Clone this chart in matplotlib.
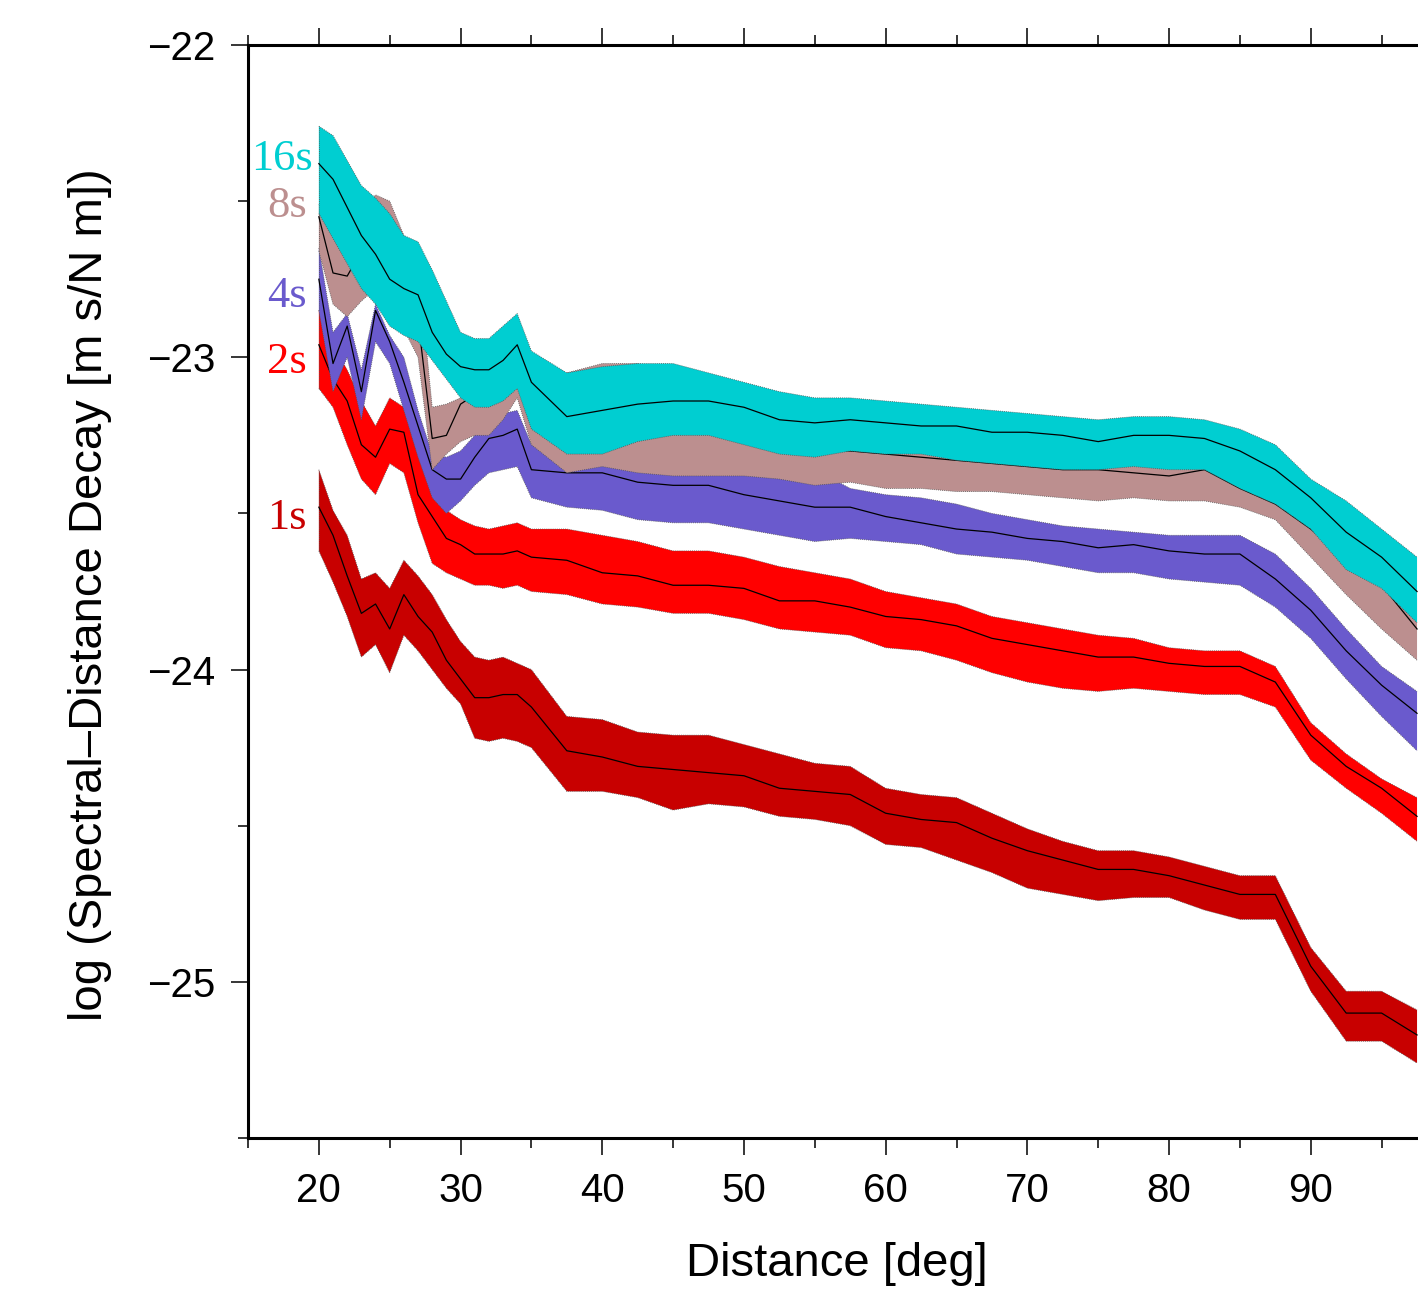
import matplotlib
matplotlib.use("Agg")
import matplotlib.pyplot as plt
from matplotlib.ticker import MultipleLocator

plt.rcParams['font.family'] = ['Liberation Sans', 'DejaVu Sans']

# epicentral distance of the decay samples
dist = [20, 21, 22, 23, 24, 25, 26, 27, 28, 29, 30, 31, 32, 33, 34, 35,
        37.5, 40, 42.5, 45, 47.5, 50, 52.5, 55, 57.5, 60, 62.5, 65, 67.5, 70,
        72.5, 75, 77.5, 80, 82.5, 85, 87.5, 90, 92.5, 95, 97.5]

# 1 s period
p1_up = [-23.36, -23.49, -23.57, -23.71, -23.69, -23.74, -23.65, -23.70, -23.76, -23.84, -23.91, -23.96, -23.97, -23.96, -23.98, -24.00,
         -24.15, -24.16, -24.20, -24.21, -24.21, -24.24, -24.27, -24.30, -24.31, -24.38, -24.40, -24.41, -24.46, -24.51,
         -24.55, -24.58, -24.58, -24.60, -24.63, -24.66, -24.66, -24.89, -25.03, -25.03, -25.09]
p1_mid = [-23.48, -23.57, -23.70, -23.82, -23.79, -23.87, -23.76, -23.83, -23.88, -23.97, -24.03, -24.09, -24.09, -24.08, -24.08, -24.12,
          -24.26, -24.28, -24.31, -24.32, -24.33, -24.34, -24.38, -24.39, -24.40, -24.46, -24.48, -24.49, -24.54, -24.58,
          -24.61, -24.64, -24.64, -24.66, -24.69, -24.72, -24.72, -24.95, -25.10, -25.10, -25.17]
p1_lo = [-23.62, -23.72, -23.83, -23.96, -23.92, -24.01, -23.89, -23.94, -24.00, -24.06, -24.11, -24.22, -24.23, -24.22, -24.23, -24.25,
         -24.39, -24.39, -24.41, -24.45, -24.43, -24.44, -24.47, -24.48, -24.50, -24.56, -24.57, -24.61, -24.65, -24.70,
         -24.72, -24.74, -24.73, -24.73, -24.77, -24.80, -24.80, -25.03, -25.19, -25.19, -25.26]

# 2 s period
p2_up = [-22.85, -22.96, -23.04, -23.14, -23.22, -23.13, -23.16, -23.31, -23.41, -23.49, -23.52, -23.54, -23.55, -23.54, -23.53, -23.55,
         -23.55, -23.57, -23.59, -23.62, -23.62, -23.64, -23.67, -23.69, -23.71, -23.75, -23.77, -23.79, -23.83, -23.85,
         -23.87, -23.89, -23.90, -23.93, -23.94, -23.94, -23.99, -24.17, -24.27, -24.35, -24.41]
p2_mid = [-22.96, -23.07, -23.14, -23.28, -23.32, -23.23, -23.24, -23.44, -23.51, -23.58, -23.60, -23.63, -23.63, -23.63, -23.62, -23.64,
          -23.65, -23.69, -23.70, -23.73, -23.73, -23.74, -23.78, -23.78, -23.80, -23.83, -23.84, -23.86, -23.90, -23.92,
          -23.94, -23.96, -23.96, -23.98, -23.99, -23.99, -24.04, -24.21, -24.31, -24.38, -24.47]
p2_lo = [-23.10, -23.16, -23.28, -23.39, -23.44, -23.34, -23.37, -23.53, -23.66, -23.69, -23.71, -23.73, -23.73, -23.74, -23.73, -23.75,
         -23.76, -23.79, -23.80, -23.82, -23.82, -23.84, -23.87, -23.88, -23.89, -23.93, -23.94, -23.97, -24.01, -24.04,
         -24.06, -24.07, -24.06, -24.07, -24.08, -24.08, -24.12, -24.29, -24.38, -24.46, -24.55]

# 4 s period
p4_up = [-22.65, -22.92, -22.86, -23.04, -22.83, -22.93, -23.00, -23.17, -23.31, -23.32, -23.30, -23.25, -23.19, -23.18, -23.17, -23.28,
         -23.26, -23.25, -23.29, -23.30, -23.30, -23.33, -23.34, -23.36, -23.42, -23.44, -23.45, -23.47, -23.50, -23.52,
         -23.54, -23.55, -23.56, -23.57, -23.57, -23.57, -23.63, -23.74, -23.87, -23.99, -24.07]
p4_mid = [-22.75, -23.02, -22.90, -23.11, -22.85, -22.95, -23.08, -23.22, -23.36, -23.39, -23.39, -23.32, -23.26, -23.25, -23.23, -23.36,
          -23.37, -23.37, -23.40, -23.41, -23.41, -23.44, -23.46, -23.48, -23.48, -23.51, -23.53, -23.55, -23.56, -23.58,
          -23.59, -23.61, -23.60, -23.62, -23.63, -23.63, -23.71, -23.81, -23.94, -24.05, -24.14]
p4_lo = [-22.85, -23.11, -23.00, -23.20, -22.95, -23.02, -23.17, -23.32, -23.45, -23.50, -23.46, -23.41, -23.37, -23.36, -23.35, -23.45,
         -23.48, -23.49, -23.52, -23.53, -23.53, -23.55, -23.57, -23.59, -23.58, -23.59, -23.60, -23.63, -23.64, -23.65,
         -23.67, -23.69, -23.69, -23.71, -23.72, -23.73, -23.80, -23.90, -24.03, -24.15, -24.26]

# 8 s period
p8_up = [-22.51, -22.56, -22.58, -22.54, -22.48, -22.50, -22.61, -22.70, -23.16, -23.15, -23.13, -23.12, -23.10, -23.07, -23.04, -23.14,
         -23.05, -23.02, -23.02, -23.06, -23.07, -23.10, -23.14, -23.15, -23.17, -23.18, -23.20, -23.23, -23.25, -23.25,
         -23.26, -23.27, -23.29, -23.29, -23.27, -23.37, -23.42, -23.46, -23.53, -23.59, -23.77]
p8_mid = [-22.55, -22.73, -22.74, -22.66, -22.67, -22.72, -22.78, -22.88, -23.26, -23.25, -23.15, -23.12, -23.09, -23.07, -23.04, -23.15,
          -23.20, -23.19, -23.20, -23.22, -23.23, -23.25, -23.28, -23.30, -23.30, -23.31, -23.32, -23.33, -23.34, -23.35,
          -23.36, -23.36, -23.37, -23.38, -23.36, -23.42, -23.47, -23.55, -23.65, -23.73, -23.87]
p8_lo = [-22.66, -22.83, -22.87, -22.82, -22.78, -22.82, -22.91, -23.00, -23.36, -23.31, -23.27, -23.25, -23.25, -23.20, -23.13, -23.28,
         -23.37, -23.35, -23.37, -23.38, -23.38, -23.38, -23.39, -23.41, -23.40, -23.42, -23.42, -23.43, -23.43, -23.44,
         -23.45, -23.46, -23.45, -23.46, -23.46, -23.48, -23.52, -23.64, -23.76, -23.87, -23.97]

# 16 s period
p16_up = [-22.26, -22.29, -22.37, -22.45, -22.49, -22.54, -22.61, -22.63, -22.72, -22.82, -22.92, -22.94, -22.94, -22.90, -22.86, -22.98,
          -23.05, -23.03, -23.02, -23.02, -23.05, -23.08, -23.11, -23.13, -23.13, -23.14, -23.15, -23.16, -23.17, -23.18,
          -23.19, -23.20, -23.19, -23.19, -23.20, -23.23, -23.28, -23.39, -23.46, -23.55, -23.64]
p16_mid = [-22.38, -22.43, -22.52, -22.61, -22.67, -22.75, -22.78, -22.80, -22.92, -22.99, -23.03, -23.04, -23.04, -23.01, -22.96, -23.08,
           -23.19, -23.17, -23.15, -23.14, -23.14, -23.16, -23.20, -23.21, -23.20, -23.21, -23.22, -23.22, -23.24, -23.24,
           -23.25, -23.27, -23.25, -23.25, -23.26, -23.30, -23.36, -23.45, -23.56, -23.64, -23.75]
p16_lo = [-22.54, -22.62, -22.70, -22.78, -22.83, -22.90, -22.93, -22.95, -23.01, -23.07, -23.13, -23.16, -23.16, -23.14, -23.10, -23.23,
          -23.31, -23.31, -23.27, -23.25, -23.25, -23.28, -23.31, -23.32, -23.30, -23.31, -23.31, -23.33, -23.34, -23.35,
          -23.36, -23.36, -23.35, -23.36, -23.36, -23.42, -23.47, -23.55, -23.68, -23.74, -23.85]

periods = ['1s', '2s', '4s', '8s', '16s']
colors = ['#c80000', '#ff0000', '#6a5acd', '#bc8f8f', '#00ced1']
bands = [(p1_lo, p1_mid, p1_up), (p2_lo, p2_mid, p2_up), (p4_lo, p4_mid, p4_up),
         (p8_lo, p8_mid, p8_up), (p16_lo, p16_mid, p16_up)]

fig = plt.figure(figsize=(14.18, 12.93), dpi=100)
# axes run past the right edge of the picture like the original crop
ax = fig.add_axes([248 / 1418, 155 / 1293, 1190.3 / 1418, 1093 / 1293])

for (lo, mid, up), c in zip(bands, colors):
    ax.fill_between(dist, lo, up, facecolor=c, edgecolor='none', zorder=2)
    ax.plot(dist, lo, color='#555555', lw=0.6, ls=(0, (1, 1.5)), zorder=2)
    ax.plot(dist, up, color='#555555', lw=0.6, ls=(0, (1, 1.5)), zorder=2)
    ax.plot([dist[0], dist[0]], [lo[0], up[0]], color='#555555', lw=0.6, ls=(0, (1, 1.5)), zorder=2)
    ax.plot(dist, mid, color='black', lw=0.9, zorder=2)

# period labels on the left of the bands
lab_pos = {'16s': (19.58, -22.40), '8s': (19.15, -22.55), '4s': (19.15, -22.84),
           '2s': (19.15, -23.05), '1s': (19.15, -23.55)}
for p, c in zip(periods, colors):
    xx, yy = lab_pos[p]
    ax.text(xx, yy, p, color=c, fontsize=32, ha='right', va='baseline',
            family=['Liberation Serif', 'DejaVu Serif'])

ax.set_xlim(15, 99)
ax.set_ylim(-25.5, -22)
ax.xaxis.set_major_locator(MultipleLocator(10))
ax.xaxis.set_minor_locator(MultipleLocator(5))
ax.yaxis.set_major_locator(MultipleLocator(1))
ax.yaxis.set_minor_locator(MultipleLocator(0.5))
ax.tick_params(which='both', direction='out', top=True, labeltop=False, width=1.1, labelsize=29)
ax.tick_params(which='major', length=12.5)
ax.tick_params(which='minor', length=7)
ax.tick_params(axis='x', pad=12)
ax.tick_params(axis='y', pad=11)
for s in ['left', 'top', 'bottom']:
    ax.spines[s].set_linewidth(2.2)
    ax.spines[s].set_zorder(5)
ax.spines['right'].set_visible(False)

fig.text(837 / 1418, 1 - 1264 / 1293, 'Distance [deg]', fontsize=34, ha='center', va='center')
fig.text(90 / 1418, 1 - 595 / 1293, 'log (Spectral\u2013Distance Decay [m s/N m])', fontsize=34,
         rotation=90, ha='center', va='center')

fig.savefig('out.png', dpi=100)
